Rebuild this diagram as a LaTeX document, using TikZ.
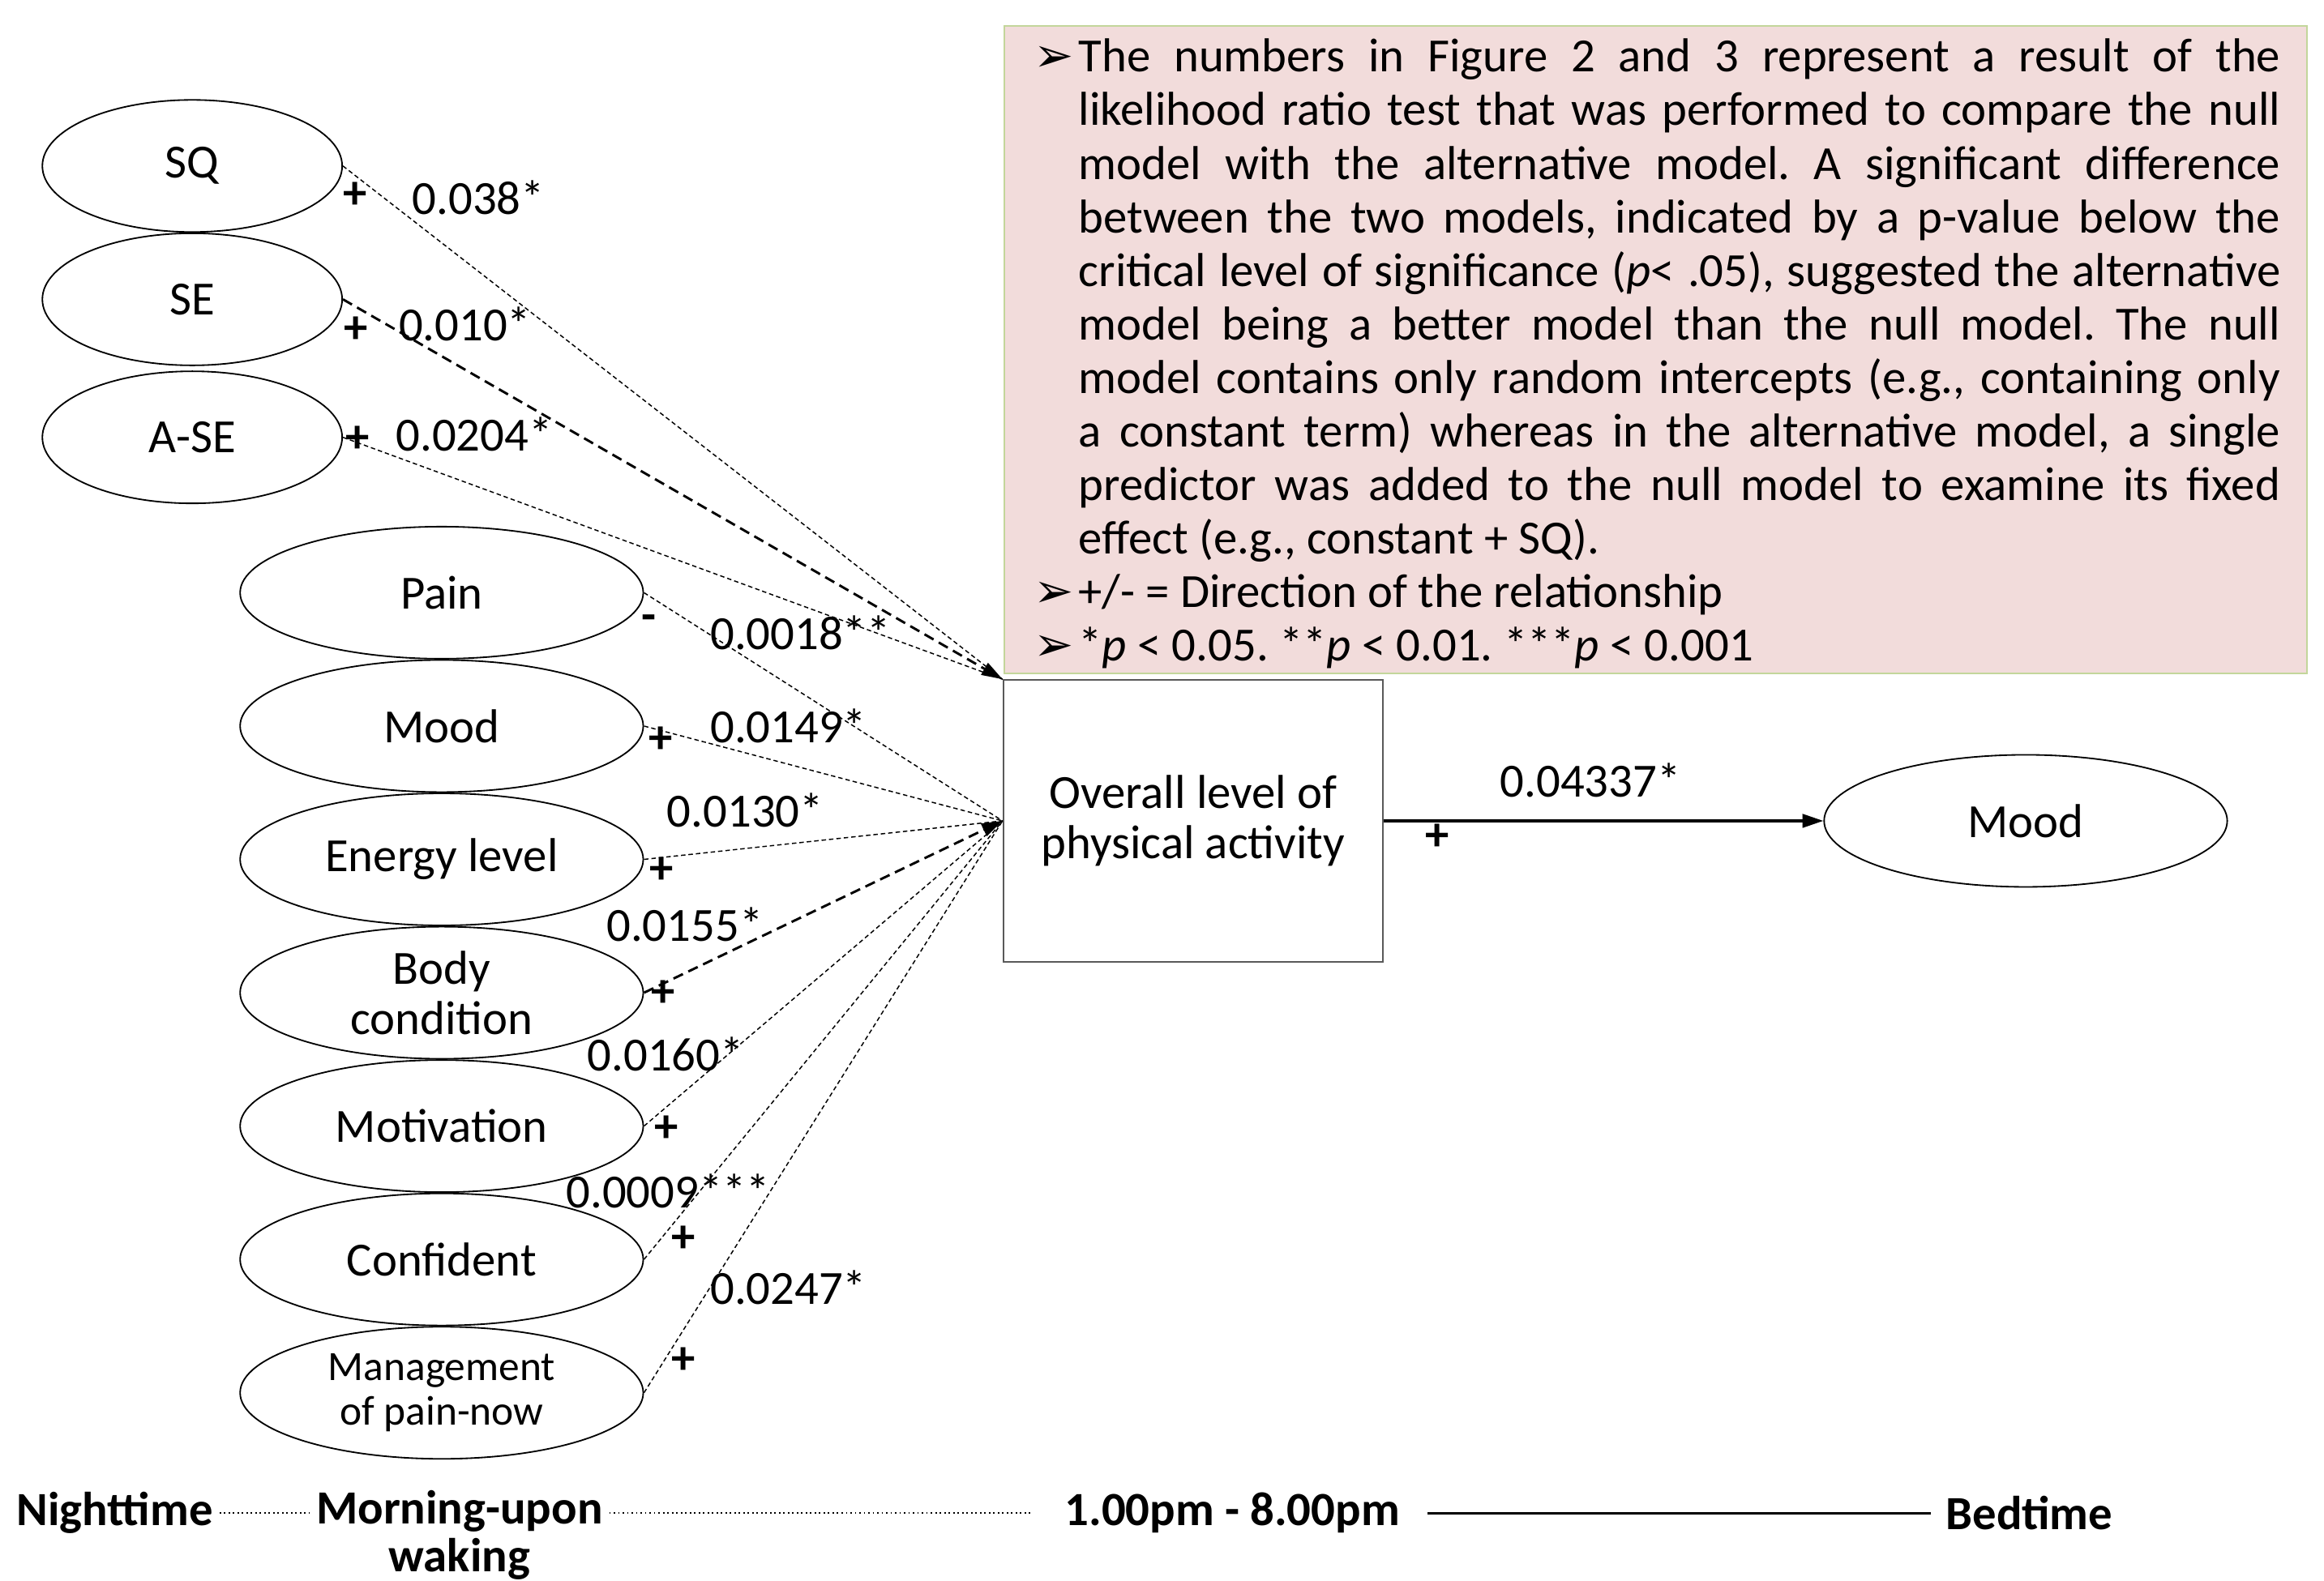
\documentclass[tikz,border=0pt]{standalone}
\usepackage{fontspec}
\setmainfont{Carlito}
\newfontfamily\symfont{DejaVu Sans}
\usepackage{xcolor}
\usepackage[]{tikz}
\usetikzlibrary{positioning,shapes,arrows.meta}
\definecolor{notePink}{HTML}{F2DCDB}
\definecolor{noteGreen}{HTML}{C3D69B}
\definecolor{boxGray}{HTML}{595959}
\tikzstyle{nodeSmall} =[ellipse, draw, line width=0.5pt, minimum width=3.54cm, minimum height=1.56cm, inner sep=0pt, align=center]
\tikzstyle{nodeBig}   =[ellipse, draw, line width=0.5pt, minimum width=4.76cm, minimum height=1.56cm, inner sep=0pt, align=center]
\tikzstyle{nodeBox}   =[rectangle, draw=boxGray, line width=0.6pt, minimum width=4.48cm, minimum height=3.325cm, align=center]
\tikzstyle{noteBox}   =[rectangle, draw=noteGreen, fill=notePink, line width=0.6pt, text width=14.75cm, inner xsep=0.315cm, inner ysep=0.05cm, minimum height=7.595cm, align=justify, font=\fontsize{16}{18}\selectfont]
\tikzstyle{signLabel} =[font=\fontsize{16}{17}\selectfont\bfseries, inner sep=0pt]
\tikzstyle{pLabel}    =[inner sep=0pt]
\tikzstyle{timeLabel} =[font=\fontsize{16}{16}\selectfont\bfseries, inner sep=2pt, align=center]
\tikzstyle{thinDash}  =[line width=0.4pt, dash pattern=on 1.5pt off 1pt]
\tikzstyle{thickDash} =[line width=0.8pt, dash pattern=on 3.5pt off 2pt, -{Triangle[length=7pt,width=4.5pt]}]

\begin{document}
\begin{tikzpicture}[on grid, font=\fontsize{16}{17}\selectfont]
      \useasboundingbox (0,0) rectangle (27.44,-18.6725);
      % nighttime predictors
      \node[nodeSmall] (SQ) at (2.27,-1.96) {SQ};
      \node[nodeSmall] (SE) [below = 1.575cm of SQ] {SE};
      \node[nodeSmall] (ASE) [below = 1.63cm of SE] {A-SE};
      % morning predictors
      \node[nodeBig] (Pain) at (5.215,-7.0) {Pain};
      \node[nodeBig] (Mood) [below = 1.575cm of Pain] {Mood};
      \node[nodeBig] (Energy) [below = 1.575cm of Mood] {Energy level};
      \node[nodeBig] (Body) [below = 1.575cm of Energy] {Body\\condition};
      \node[nodeBig] (Motivation) [below = 1.575cm of Body] {Motivation};
      \node[nodeBig] (Confident) [below = 1.575cm of Motivation] {Confident};
      \node[nodeBig, font=\fontsize{14}{15}\selectfont] (Manage) [below = 1.575cm of Confident] {Management\\of pain-now};
      % outcome
      \node[nodeBox] (PA) at (14.0875,-9.695) {Overall level of\\physical activity};
      \node[nodeBig] (MoodBed) [right = 9.83cm of PA] {Mood};
      % note
      \node[noteBox, anchor=north west] (note) at (11.85,-0.2975) {%
        \frenchspacing\vspace*{-4pt}%
        \begin{list}{\symfont\fontsize{16}{16}\selectfont ➢}{\setlength{\leftmargin}{0.56cm}\setlength{\labelwidth}{0.50cm}\setlength{\labelsep}{0.06cm}\setlength{\itemsep}{0pt}\setlength{\parsep}{0pt}\setlength{\topsep}{0pt}\setlength{\partopsep}{0pt}}
        \item The numbers in Figure 2 and 3 represent a result of the\linebreak
        likelihood ratio test that was performed to compare the null\linebreak
        model with the alternative model. A significant difference\linebreak
        between the two models, indicated by a p-value below the\linebreak
        critical level of significance (\textit{p}< .05), suggested the alternative\linebreak
        model being a better model than the null model. The null\linebreak
        model contains only random intercepts (e.g., containing only\linebreak
        a constant term) whereas in the alternative model, a single\linebreak
        predictor was added to the null model to examine its fixed\linebreak
        effect (e.g., constant + SQ).
        \item +/- = Direction of the relationship
        \item *\textit{p} < 0.05. **\textit{p} < 0.01. ***\textit{p} < 0.001
        \end{list}};
      % paths
      \draw[thinDash] (SQ.east) -- (PA.north west);
      \draw[thickDash] (SE.east) -- (PA.north west);
      \draw[thinDash] (ASE.east) -- (PA.north west);
      \draw[thinDash] (Pain.east) -- (PA.west);
      \draw[thinDash] (Mood.east) -- (PA.west);
      \draw[thinDash] (Energy.east) -- (PA.west);
      \draw[thickDash] (Body.east) -- (PA.west);
      \draw[thinDash] (Motivation.east) -- (PA.west);
      \draw[thinDash] (Confident.east) -- (PA.west);
      \draw[thinDash] (Manage.east) -- (PA.west);
      \draw[line width=0.9pt, -{Triangle[length=7pt,width=4.5pt]}] (PA.east) -- (MoodBed.west);
      % signs and p-values
      \node[signLabel] (sSQ) at (4.19,-2.31) {+};
      \node[pLabel] (pSQ) at (5.65,-2.33) {0.038*};
      \node[signLabel] (sSE) at (4.20,-3.90) {+};
      \node[pLabel] (pSE) at (5.49,-3.83) {0.010*};
      \node[signLabel] (sASE) at (4.22,-5.19) {+};
      \node[pLabel] (pASE) at (5.60,-5.13) {0.0204*};
      \node[signLabel] (sPain) at (7.665,-7.36) {-};
      \node[pLabel] (pPain) at (9.45,-7.47) {0.0018**};
      \node[signLabel] (sMood) at (7.80,-8.74) {+};
      \node[pLabel] (pMood) at (9.31,-8.57) {0.0149*};
      \node[signLabel] (sEnergy) at (7.81,-10.28) {+};
      \node[pLabel] (pEnergy) at (8.80,-9.57) {0.0130*};
      \node[signLabel] (sBody) at (7.83,-11.74) {+};
      \node[pLabel] (pBody) at (8.085,-10.92) {0.0155*};
      \node[signLabel] (sMotivation) at (7.865,-13.335) {+};
      \node[pLabel] (pMotivation) at (7.86,-12.45) {0.0160*};
      \node[signLabel] (sConfident) at (8.07,-14.64) {+};
      \node[pLabel] (pConfident) at (7.89,-14.07) {0.0009***};
      \node[signLabel] (sManage) at (8.07,-16.07) {+};
      \node[pLabel] (pManage) at (9.31,-15.21) {0.0247*};
      \node[pLabel] (pMoodBed) at (18.78,-9.22) {0.04337*};
      \node[signLabel] (sMoodBed) at (16.975,-9.89) {+};
      % time line
      \node[timeLabel] (night) at (1.356,-17.87) {Nighttime};
      \node[timeLabel] (morning) at (5.425,-18.13) {Morning-upon\\waking};
      \node[timeLabel] (afternoon) at (14.55,-17.87) {1.00pm - 8.00pm};
      \node[timeLabel] (bed) at (23.96,-17.87) {Bedtime};
      \draw[densely dotted, line width=0.5pt] (night.east) -- (night.east -| morning.west);
      \draw[densely dotted, line width=0.5pt, shorten >=0.3cm] (night.east -| morning.east) -- (afternoon.west);
      \draw[line width=0.8pt, shorten <=0.25cm, shorten >=0.1cm] (afternoon.east) -- (bed.west);
\end{tikzpicture}
\end{document}
